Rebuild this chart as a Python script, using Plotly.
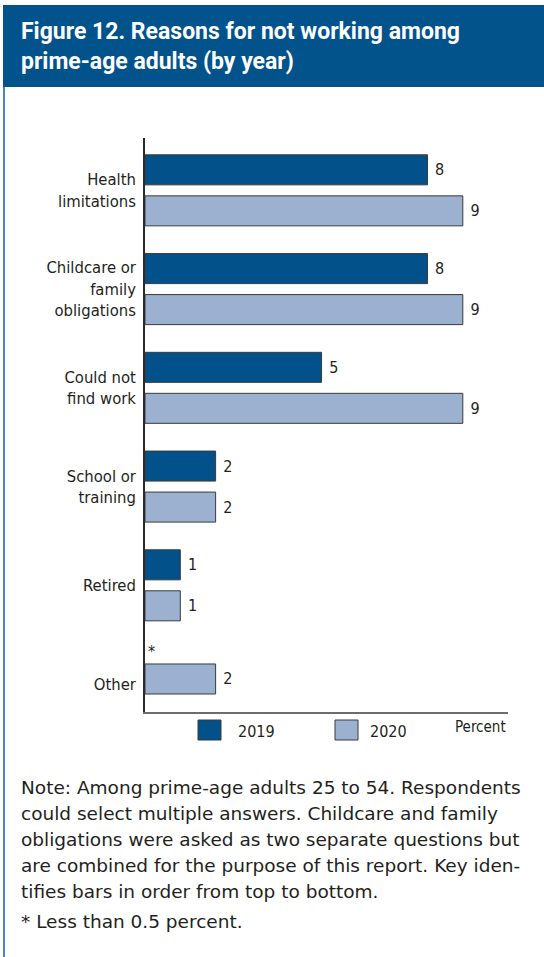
import plotly.graph_objects as go

# Reasons for not working, prime-age adults (percent)
categories = [
    "Health<br>limitations",
    "Childcare or<br>family<br>obligations",
    "Could not<br>find work",
    "School or<br>training",
    "Retired",
    "Other",
]
pct_2019 = [8, 8, 5, 2, 1, 0]   # "Other" in 2019 is below 0.5 percent
pct_2020 = [9, 9, 9, 2, 1, 2]

series_names = ["2019", "2020"]
title_lines = ["Figure 12. Reasons for not working among", "prime-age adults (by year)"]
note_lines = [
    "Note: Among prime-age adults 25 to 54. Respondents",
    "could select multiple answers. Childcare and family",
    "obligations were asked as two separate questions but",
    "are combined for the purpose of this report. Key iden-",
    "tifies bars in order from top to bottom.",
]
footnote = "* Less than 0.5 percent."

DARK = "#02518a"
LIGHT = "#9cb1d0"
EDGE = "#3a3a3a"
TXT = "#231f20"
NARROW = "Liberation Sans Narrow, Arial Narrow, DejaVu Sans Condensed, Roboto, sans-serif"
BODY = "DejaVu Sans, Verdana, sans-serif"

W, H = 544, 957
M_L, M_R, M_T, M_B = 145, 36, 138, 245
PW, PH = W - M_L - M_R, H - M_T - M_B

BAR_W = 0.304
OFF_TOP = -0.3595
OFF_BOT = 0.0557
# when the 2019 bar is empty the group tightens upward
SHIFT_EMPTY_TOP = 0.12
SHIFT_EMPTY_BOT = 0.259


def label(v):
    return "*" if v < 0.5 else f" {v:.0f}"


empty = [a < 0.5 for a in pct_2019]
off_2019 = [OFF_TOP - SHIFT_EMPTY_TOP if e else OFF_TOP for e in empty]
off_2020 = [OFF_BOT - SHIFT_EMPTY_BOT if e else OFF_BOT for e in empty]


def edge_widths(vals):
    return [1 if v >= 0.5 else 0 for v in vals]


fig = go.Figure()
fig.add_trace(go.Bar(
    y=categories, x=pct_2019, orientation="h", name=series_names[0],
    width=BAR_W, offset=off_2019,
    marker=dict(color=DARK, line=dict(color=EDGE, width=edge_widths(pct_2019))),
    text=[label(v) for v in pct_2019], textposition="outside",
    textfont=dict(family=NARROW, size=16, color=TXT),
    cliponaxis=False, showlegend=False,
))
fig.add_trace(go.Bar(
    y=categories, x=pct_2020, orientation="h", name=series_names[1],
    width=BAR_W, offset=off_2020,
    marker=dict(color=LIGHT, line=dict(color=EDGE, width=edge_widths(pct_2020))),
    text=[label(v) for v in pct_2020], textposition="outside",
    textfont=dict(family=NARROW, size=16, color=TXT),
    cliponaxis=False, showlegend=False,
))

fig.update_layout(
    width=W, height=H,
    margin=dict(l=M_L, r=M_R, t=M_T, b=M_B, pad=0),
    paper_bgcolor="white", plot_bgcolor="white",
    barmode="overlay",
    xaxis=dict(range=[0, 10.28], showgrid=False, zeroline=False,
               showticklabels=False, ticks="", showline=True,
               linecolor="#6d6d6d", linewidth=2, fixedrange=True),
    yaxis=dict(type="category", categoryorder="array", categoryarray=categories,
               range=[5.283, -0.53], showgrid=False, zeroline=False,
               ticks="", ticklabelstandoff=4, showline=True,
               linecolor="#2b2b2b", linewidth=1.5,
               tickfont=dict(family=NARROW, size=16.5, color=TXT)),
)


# page pixel -> paper coordinate (paper spans the plotting area)
def px_x(x):
    return (x - M_L) / PW


def px_y(y):
    return (H - M_B - y) / PH


shapes = [
    # header band
    dict(type="rect", xref="paper", yref="paper", x0=px_x(3), x1=px_x(W),
         y0=px_y(87), y1=px_y(5), fillcolor="#02528b", line=dict(width=0), layer="below"),
    # left frame rule
    dict(type="line", xref="paper", yref="paper", x0=px_x(4), x1=px_x(4),
         y0=px_y(H), y1=px_y(87), line=dict(color="#4f86b9", width=2)),
]
# legend swatches
for x0, col in [(198, DARK), (335, LIGHT)]:
    shapes.append(dict(type="rect", xref="paper", yref="paper",
                       x0=px_x(x0), x1=px_x(x0 + 23), y0=px_y(740), y1=px_y(720),
                       fillcolor=col, line=dict(color=EDGE, width=1)))
fig.update_layout(shapes=shapes)

ann = []
for i, t in enumerate(title_lines):
    ann.append(dict(text=f"<b>{t}</b>", xref="paper", yref="paper",
                    x=px_x(19), y=px_y(32 + 30 * i), xanchor="left", yanchor="middle",
                    showarrow=False, font=dict(family="Roboto, Arial, sans-serif", size=23, color="white")))
for x0, name in [(236, series_names[0]), (368, series_names[1])]:
    ann.append(dict(text=name, xref="paper", yref="paper", x=px_x(x0), y=px_y(731),
                    xanchor="left", yanchor="middle", showarrow=False,
                    font=dict(family=NARROW, size=16, color=TXT)))
ann.append(dict(text="Percent", xref="paper", yref="paper", x=px_x(508), y=px_y(727),
                xanchor="right", yanchor="middle", showarrow=False,
                font=dict(family=NARROW, size=15, color=TXT)))
for i, t in enumerate(note_lines):
    ann.append(dict(text=t, xref="paper", yref="paper", x=px_x(19), y=px_y(787 + 26.2 * i),
                    xanchor="left", yanchor="middle", showarrow=False,
                    font=dict(family=BODY, size=18.5, color=TXT)))
ann.append(dict(text=footnote, xref="paper", yref="paper", x=px_x(19), y=px_y(922),
                xanchor="left", yanchor="middle", showarrow=False,
                font=dict(family=BODY, size=18.5, color=TXT)))
fig.update_layout(annotations=ann)

fig.write_html("out.html", config={"displayModeBar": False})
